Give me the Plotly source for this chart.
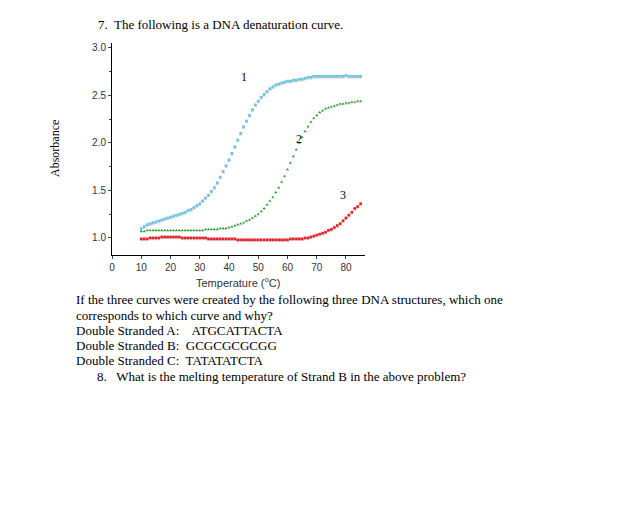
import plotly.graph_objects as go

temps = list(range(10, 86))
curve1 = [1.10,1.12,1.14,1.15,1.16,1.17,1.18,1.19,1.20,1.21,1.22,1.23,1.24,1.25,1.26,1.27,1.29,1.30,1.32,1.34,
          1.36,1.39,1.42,1.45,1.49,1.53,1.58,1.64,1.70,1.76,1.82,1.89,1.96,2.03,2.10,2.17,2.23,2.29,2.35,2.40,
          2.44,2.48,2.51,2.54,2.57,2.59,2.61,2.62,2.63,2.64,2.65,2.65,2.66,2.66,2.67,2.67,2.68,2.69,2.69,2.70,
          2.70,2.70,2.70,2.70,2.70,2.70,2.70,2.70,2.70,2.70,2.71,2.70,2.70,2.70,2.70,2.70]
curve2 = [1.07,1.07,1.08,1.08,1.08,1.08,1.08,1.08,1.08,1.08,1.08,1.08,1.08,1.08,1.08,1.08,1.08,1.08,1.08,1.08,
          1.08,1.08,1.09,1.09,1.09,1.09,1.09,1.10,1.10,1.10,1.11,1.12,1.13,1.14,1.15,1.16,1.18,1.19,1.21,1.23,
          1.25,1.28,1.31,1.35,1.39,1.43,1.48,1.53,1.59,1.65,1.72,1.79,1.86,1.93,2.00,2.06,2.12,2.17,2.22,2.26,
          2.29,2.32,2.34,2.36,2.37,2.38,2.39,2.40,2.41,2.41,2.42,2.42,2.43,2.43,2.44,2.44]
curve3 = [0.99,0.99,0.99,1.00,1.00,1.00,1.00,1.01,1.01,1.01,1.01,1.01,1.01,1.01,1.00,1.00,1.00,1.00,1.00,1.00,
          1.00,1.00,1.00,0.99,0.99,0.99,0.99,0.99,0.99,0.99,0.99,0.99,0.99,0.98,0.98,0.98,0.98,0.98,0.98,0.98,
          0.98,0.98,0.98,0.98,0.98,0.98,0.98,0.98,0.98,0.98,0.98,0.99,0.99,0.99,0.99,0.99,1.00,1.00,1.01,1.02,
          1.03,1.04,1.05,1.06,1.08,1.09,1.11,1.13,1.15,1.18,1.21,1.24,1.27,1.31,1.33,1.36]
x_ticks = [0, 10, 20, 30, 40, 50, 60, 70, 80]
y_ticks = [1.0, 1.5, 2.0, 2.5, 3.0]
labels = [("1", 45, 2.69), ("2", 64, 2.04), ("3", 79, 1.45)]

L, R, T, B = 104, 357, 35, 247
def px2paper(px, py):
    return (px - L) / (R - L), (B - py) / (B - T)

fig = go.Figure()
series = [(curve1, "#6ac6e8", "square"), (curve2, "#1aa51a", "triangle-up"), (curve3, "#ee1c24", "square")]
for ys, col, sym in series:
    fig.add_trace(go.Scatter(x=temps, y=[v - 0.008 for v in ys], mode="markers",
                             marker=dict(color="#d0d0d0", size=3, symbol=sym, line=dict(width=0)), hoverinfo="skip"))
    fig.add_trace(go.Scatter(x=temps, y=ys, mode="markers",
                             marker=dict(color=col, size=2.6, symbol=sym, line=dict(width=0))))

for t, x, y in labels:
    fig.add_annotation(x=x, y=y, text=t, showarrow=False, font=dict(family="Liberation Serif", size=12, color="black"))

serif = "Liberation Serif"
texts = [
    (88, 17, "7.  The following is a DNA denaturation curve."),
    (66, 291, "If the three curves were created by the following three DNA structures, which one"),
    (66, 307, "corresponds to which curve and why?"),
    (66, 322, "Double Stranded A:    ATGCATTACTA"),
    (66, 337, "Double Stranded B:  GCGCGCGCGG"),
    (66, 352, "Double Stranded C:  TATATATCTA"),
    (87, 368, "8.   What is the melting temperature of Strand B in the above problem?"),
]
for px, py, t in texts:
    xp, yp = px2paper(px, py)
    fig.add_annotation(x=xp, y=yp, xref="paper", yref="paper", xanchor="left", yanchor="middle",
                       text=t, showarrow=False, font=dict(family=serif, size=13, color="black"))
xp, yp = px2paper(230, 274)
fig.add_annotation(x=xp, y=yp, xref="paper", yref="paper", xanchor="center", yanchor="middle",
                   text="Temperature (<sup>o</sup>C)", showarrow=False,
                   font=dict(family="Liberation Sans", size=11, color="#333"))
xp, yp = px2paper(47, 141)
fig.add_annotation(x=xp, y=yp, xref="paper", yref="paper", xanchor="center", yanchor="middle",
                   text="Absorbance", textangle=-90, showarrow=False,
                   font=dict(family=serif, size=12, color="black"))

fig.update_layout(
    width=618, height=529, showlegend=False, plot_bgcolor="white", paper_bgcolor="white",
    margin=dict(l=L, r=618 - R, t=T, b=529 - B, autoexpand=False),
    xaxis=dict(range=[0, 86.5], tickvals=x_ticks, showline=True, linecolor="black", ticks="outside",
               ticklen=3, tickfont=dict(family="Liberation Sans", size=10, color="#333"), showgrid=False,
               zeroline=False, automargin=False),
    yaxis=dict(range=[0.82, 3.05], tickvals=y_ticks, tickformat=".1f", showline=True, linecolor="black",
               ticks="outside", ticklen=3, tickfont=dict(family="Liberation Sans", size=10, color="#333"),
               showgrid=False, zeroline=False, minor=dict(ticks="outside", ticklen=2, dtick=0.25),
               automargin=False),
)
fig.write_html("out.html")
